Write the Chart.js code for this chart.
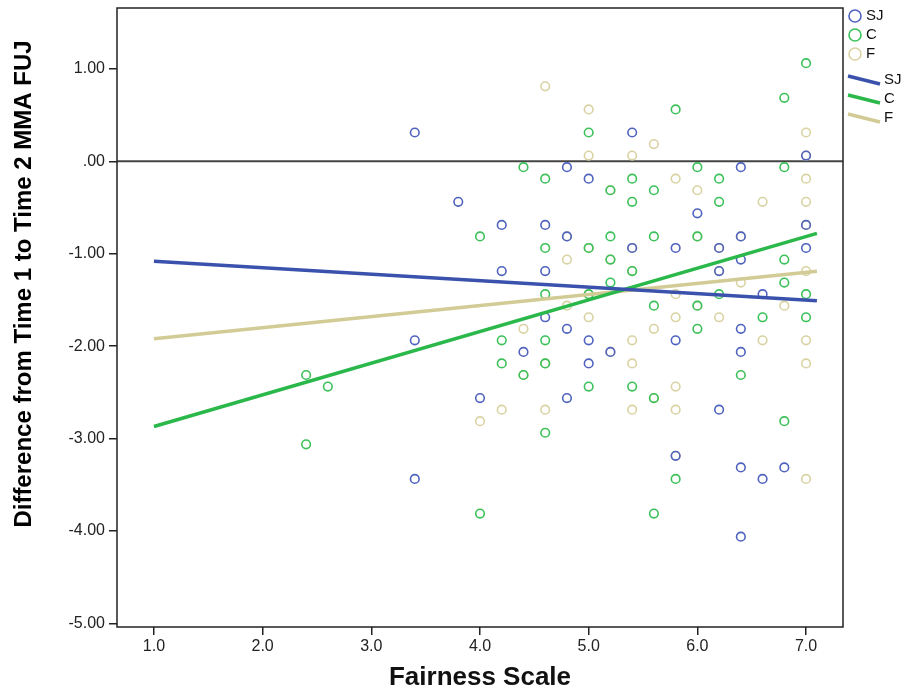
<!DOCTYPE html>
<html>
<head>
<meta charset="utf-8">
<script src="https://cdn.jsdelivr.net/npm/chart.js@4.4.0/dist/chart.umd.min.js"></script>
<style>
  html, body { margin: 0; padding: 0; background: #fff; }
  #wrap { width: 908px; height: 691px; position: relative; }
</style>
</head>
<body>
<div id="wrap"><canvas id="chart" width="908" height="691"></canvas></div>
<script>
const seriesNames = ['SJ', 'C', 'F'];
const xTicks = [1, 2, 3, 4, 5, 6, 7];
const yTicks = [1, 0, -1, -2, -3, -4, -5];

// scatter points
const sjX = [3.4, 3.4, 3.4, 3.8, 4.0, 4.2, 4.2, 4.4, 4.6, 4.6, 4.6, 4.8, 4.8, 4.8, 4.8, 5.0, 5.0, 5.0, 5.2, 5.4, 5.4,
             5.8, 5.8, 5.8, 6.0, 6.2, 6.2, 6.2, 6.4, 6.4, 6.4, 6.4, 6.4, 6.4, 6.4, 6.6, 6.6, 6.8, 7.0, 7.0, 7.0];
const sjY = [0.3125, -1.9375, -3.4375, -0.4375, -2.5625, -0.6875, -1.1875, -2.0625, -0.6875, -1.1875, -1.6875,
             -0.0625, -0.8125, -1.8125, -2.5625, -0.1875, -1.9375, -2.1875, -2.0625, 0.3125, -0.9375,
             -0.9375, -1.9375, -3.1875, -0.5625, -0.9375, -1.1875, -2.6875, -0.0625, -0.8125, -1.0625, -1.8125,
             -2.0625, -3.3125, -4.0625, -1.4375, -3.4375, -3.3125, 0.0625, -0.6875, -0.9375];

const cX = [2.4, 2.4, 2.6, 4.0, 4.0, 4.2, 4.2, 4.4, 4.4, 4.6, 4.6, 4.6, 4.6, 4.6, 4.6, 5.0, 5.0, 5.0, 5.0,
            5.2, 5.2, 5.2, 5.2, 5.4, 5.4, 5.4, 5.4, 5.6, 5.6, 5.6, 5.6, 5.6, 5.8, 5.8, 6.0, 6.0, 6.0, 6.0,
            6.2, 6.2, 6.2, 6.4, 6.6, 6.8, 6.8, 6.8, 6.8, 6.8, 7.0, 7.0, 7.0];
const cY = [-2.3125, -3.0625, -2.4375, -0.8125, -3.8125, -1.9375, -2.1875, -0.0625, -2.3125, -0.1875, -0.9375,
            -1.4375, -1.9375, -2.1875, -2.9375, 0.3125, -0.9375, -1.4375, -2.4375,
            -0.3125, -0.8125, -1.0625, -1.3125, -0.1875, -0.4375, -1.1875, -2.4375,
            -0.3125, -0.8125, -1.5625, -2.5625, -3.8125, 0.5625, -3.4375, -0.0625, -0.8125, -1.5625, -1.8125,
            -0.1875, -0.4375, -1.4375, -2.3125, -1.6875, 0.6875, -0.0625, -1.0625, -1.3125, -2.8125,
            1.0625, -1.4375, -1.6875];

const fX = [4.0, 4.2, 4.4, 4.4, 4.6, 4.6, 4.6, 4.8, 4.8, 4.8, 5.0, 5.0, 5.0, 5.0, 5.0, 5.2, 5.2, 5.2,
            5.4, 5.4, 5.4, 5.4, 5.4, 5.4, 5.6, 5.6, 5.6, 5.8, 5.8, 5.8, 5.8, 5.8, 5.8, 6.0, 6.0, 6.0,
            6.2, 6.2, 6.2, 6.4, 6.4, 6.6, 6.6, 6.8, 7.0, 7.0, 7.0, 7.0, 7.0, 7.0, 7.0, 7.0, 7.0];
const fY = [-2.8125, -2.6875, -1.8125, -2.3125, 0.8125, -2.1875, -2.6875, -0.8125, -1.0625, -1.5625,
            0.5625, 0.0625, -0.9375, -1.4375, -1.6875, -0.3125, -1.0625, -2.0625,
            0.0625, -0.9375, -1.1875, -1.9375, -2.1875, -2.6875, 0.1875, -1.8125, -2.5625,
            -0.1875, -1.4375, -1.6875, -2.4375, -2.6875, -3.1875, -0.3125, -0.8125, -1.5625,
            -0.9375, -1.1875, -1.6875, -0.8125, -1.3125, -0.4375, -1.9375, -1.5625,
            0.3125, 0.0625, -0.1875, -0.4375, -0.6875, -1.1875, -1.9375, -2.1875, -3.4375];

// fit line end points
const fitX = [1.0, 7.1];
const fitSJ = [-1.08, -1.51];
const fitC = [-2.87, -0.78];
const fitF = [-1.92, -1.19];

const pointColors = ['#4f63bf', '#3cc15a', '#d9d3a3'];
const lineColors = ['#3b52ad', '#2bb84b', '#d3cb95'];
const FONT = '"Liberation Sans", Arial, sans-serif';

const pts = (xs, ys) => xs.map((x, i) => ({ x: x, y: ys[i] }));

const scatterSets = [[sjX, sjY], [cX, cY], [fX, fY]].map((s, i) => ({
    type: 'scatter',
    label: seriesNames[i],
    data: pts(s[0], s[1]),
    pointStyle: 'circle',
    pointRadius: 4.3,
    pointBorderWidth: 1.6,
    borderColor: pointColors[i],
    backgroundColor: 'rgba(0,0,0,0)',
    order: 2
}));

const fitSets = [fitSJ, fitC, fitF].map((f, i) => ({
    type: 'line',
    label: seriesNames[i],
    data: pts(fitX, f),
    borderColor: lineColors[i],
    borderWidth: 3.5,
    pointRadius: 0,
    fill: false,
    order: 1
}));

const frame = {
    id: 'frame',
    beforeDatasetsDraw(chart) {
        const { ctx, chartArea: a, scales } = chart;
        const y0 = scales.y.getPixelForValue(0);
        ctx.save();
        ctx.strokeStyle = '#444';
        ctx.lineWidth = 2;
        ctx.beginPath();
        ctx.moveTo(a.left, y0);
        ctx.lineTo(a.right, y0);
        ctx.stroke();
        ctx.restore();
    },
    afterDraw(chart) {
        const { ctx, chartArea: a } = chart;
        ctx.save();
        ctx.strokeStyle = '#222';
        ctx.lineWidth = 1.5;
        ctx.strokeRect(a.left, a.top, a.right - a.left, a.bottom - a.top);

        // y title, sits a bit above the middle like the original
        ctx.translate(24, 284);
        ctx.rotate(-Math.PI / 2);
        ctx.fillStyle = '#000';
        ctx.font = 'bold 24px ' + FONT;
        ctx.textAlign = 'center';
        ctx.textBaseline = 'middle';
        ctx.fillText('Difference from Time 1 to Time 2 MMA FUJ', 0, 0);
        ctx.restore();

        // legend: circles then fit lines
        ctx.save();
        ctx.font = '15px ' + FONT;
        ctx.textBaseline = 'middle';
        ctx.fillStyle = '#111';
        seriesNames.forEach((n, i) => {
            const cy = 16 + i * 19;
            ctx.strokeStyle = pointColors[i];
            ctx.lineWidth = 1.6;
            ctx.beginPath();
            ctx.arc(855, cy, 6, 0, Math.PI * 2);
            ctx.stroke();
            ctx.fillText(n, 866, cy);
        });
        seriesNames.forEach((n, i) => {
            const ly = 76 + i * 19;
            ctx.strokeStyle = lineColors[i];
            ctx.lineWidth = 3.5;
            ctx.beginPath();
            ctx.moveTo(848, ly);
            ctx.lineTo(880, ly + 8);
            ctx.stroke();
            ctx.fillText(n, 884, ly + 4);
        });
        ctx.restore();
    }
};

new Chart(document.getElementById('chart'), {
    data: { datasets: scatterSets.concat(fitSets) },
    options: {
        responsive: false,
        animation: false,
        devicePixelRatio: 1,
        layout: { padding: { top: 8, right: 65, left: 0, bottom: 0 } },
        plugins: { legend: { display: false }, tooltip: { enabled: false } },
        scales: {
            x: {
                type: 'linear',
                min: 0.66,
                max: 7.34,
                afterBuildTicks: s => { s.ticks = xTicks.map(v => ({ value: v })); },
                afterFit: s => { s.height = 64; s.paddingLeft = 0; s.paddingRight = 0; },
                grid: { drawOnChartArea: false, drawTicks: true, tickLength: 8, color: '#222', lineWidth: 1.5 },
                border: { display: false },
                ticks: { color: '#222', font: { family: FONT, size: 16 }, padding: 2, callback: v => v.toFixed(1), maxRotation: 0 },
                title: { display: true, text: 'Fairness Scale', color: '#111', font: { family: FONT, size: 26, weight: 'bold', lineHeight: 1 }, padding: { top: 0, bottom: 0 } }
            },
            y: {
                type: 'linear',
                min: -5.04,
                max: 1.66,
                afterBuildTicks: s => { s.ticks = yTicks.map(v => ({ value: v })); },
                afterFit: s => { s.width = 117; s.paddingTop = 0; s.paddingBottom = 0; },
                grid: { drawOnChartArea: false, drawTicks: true, tickLength: 8, color: '#222', lineWidth: 1.5 },
                border: { display: false },
                ticks: { color: '#222', font: { family: FONT, size: 16 }, padding: 4, callback: v => v === 0 ? '.00' : v.toFixed(2) }
            }
        }
    },
    plugins: [frame]
});
</script>
</body>
</html>
